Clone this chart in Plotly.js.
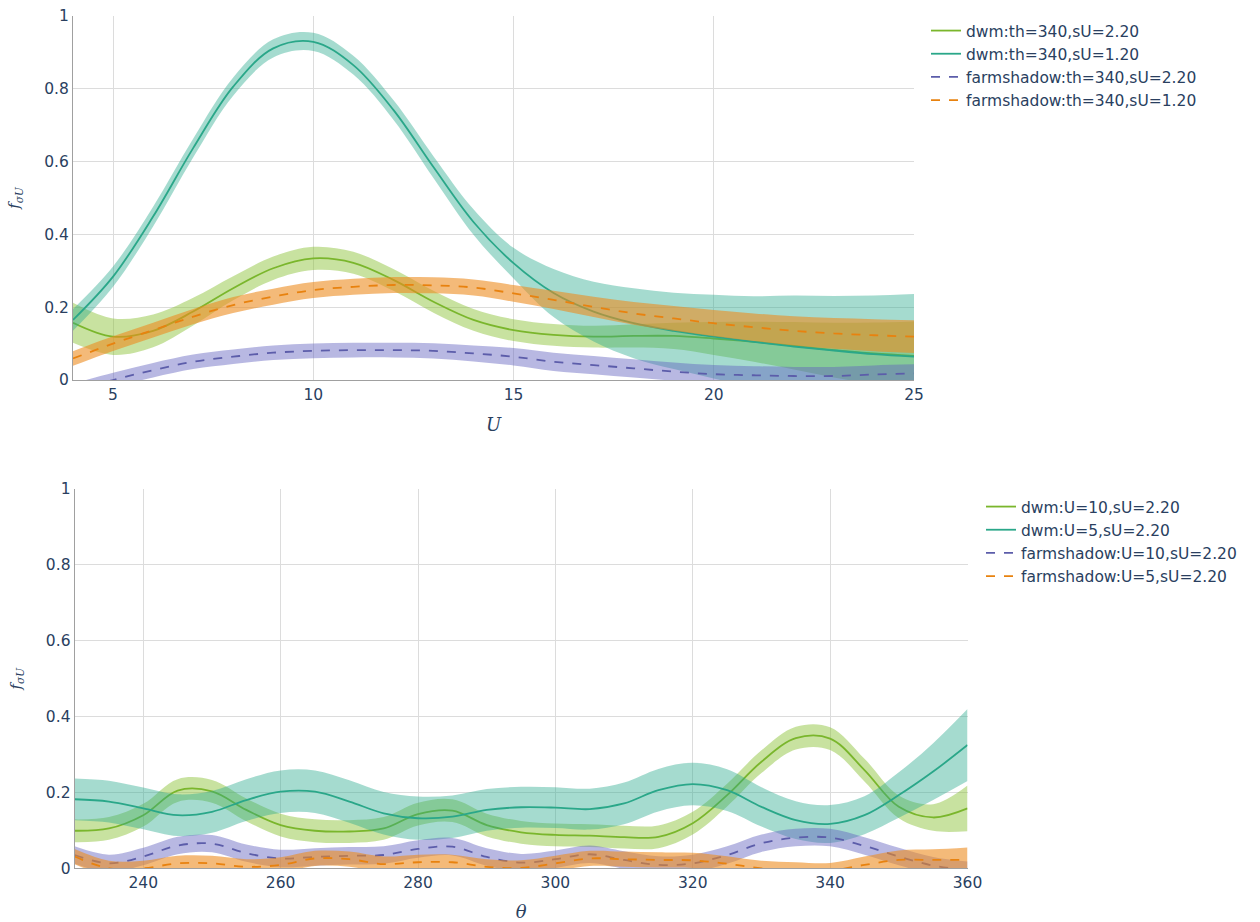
<!DOCTYPE html>
<html>
<head>
<meta charset="utf-8">
<script src="https://cdn.plot.ly/plotly-3.0.1.min.js"></script>
<style>html,body{margin:0;padding:0;background:#fff;}#plot{width:1260px;height:922px;}</style>
</head>
<body>
<div id="plot"></div>
<script>
// ---------- top panel: f vs U (theta = 340) ----------
const U = [4,5,6,7,8,9,10,11,12,13,14,15,16,17,18,19,20,21,22,23,24,25];
const dwmS22 = [0.157,0.119,0.135,0.188,0.252,0.307,0.334,0.322,0.275,0.215,0.165,0.137,0.124,0.119,0.121,0.121,0.114,0.105,0.094,0.082,0.073,0.066];
const dwmS22hw = [0.055,0.05,0.045,0.038,0.033,0.032,0.032,0.03,0.03,0.03,0.03,0.03,0.03,0.03,0.032,0.036,0.045,0.055,0.065,0.075,0.085,0.095];
const dwmS12 = [0.165,0.284,0.449,0.637,0.806,0.911,0.929,0.865,0.742,0.585,0.434,0.321,0.239,0.188,0.156,0.135,0.119,0.105,0.092,0.081,0.071,0.064];
const dwmS12hw = [0.03,0.028,0.027,0.026,0.025,0.025,0.025,0.026,0.027,0.03,0.035,0.042,0.066,0.082,0.096,0.105,0.115,0.125,0.14,0.15,0.161,0.172];
const fsS22 = [-0.03,0.0,0.027,0.05,0.064,0.075,0.08,0.082,0.082,0.08,0.073,0.064,0.05,0.041,0.032,0.023,0.016,0.013,0.011,0.011,0.015,0.018];
const fsS22hw = [0.02,0.02,0.02,0.02,0.02,0.02,0.02,0.02,0.02,0.021,0.022,0.024,0.025,0.025,0.025,0.025,0.025,0.025,0.025,0.025,0.025,0.025];
const fsS12 = [0.059,0.1,0.137,0.174,0.206,0.229,0.247,0.256,0.261,0.26,0.254,0.238,0.22,0.201,0.183,0.169,0.156,0.145,0.135,0.128,0.123,0.119];
const fsS12hw = [0.02,0.02,0.02,0.021,0.022,0.022,0.022,0.022,0.022,0.022,0.022,0.023,0.025,0.028,0.031,0.034,0.036,0.038,0.04,0.042,0.044,0.045];

// ---------- bottom panel: f vs theta (sU = 2.20) ----------
const TH = [230,235,240,245,250,255,260,265,270,275,280,285,290,295,300,305,310,315,320,325,330,335,340,345,350,355,360];
const dwmU10 = [0.099,0.105,0.14,0.205,0.203,0.154,0.114,0.099,0.097,0.105,0.143,0.152,0.114,0.095,0.088,0.086,0.082,0.083,0.119,0.193,0.281,0.343,0.342,0.259,0.162,0.134,0.158];
const dwmU10hw = [0.03,0.03,0.03,0.03,0.03,0.03,0.03,0.03,0.03,0.03,0.03,0.03,0.03,0.03,0.03,0.03,0.03,0.03,0.03,0.03,0.03,0.03,0.03,0.03,0.03,0.035,0.06];
const dwmU5 = [0.182,0.176,0.158,0.14,0.149,0.18,0.202,0.202,0.176,0.145,0.132,0.136,0.154,0.161,0.16,0.156,0.171,0.206,0.222,0.206,0.162,0.127,0.117,0.14,0.193,0.255,0.325];
const dwmU5hw = [0.055,0.055,0.055,0.055,0.055,0.055,0.056,0.056,0.056,0.056,0.057,0.056,0.055,0.054,0.054,0.054,0.055,0.056,0.056,0.055,0.052,0.05,0.05,0.05,0.06,0.075,0.095];
const fsU10 = [0.035,0.013,0.031,0.06,0.065,0.04,0.026,0.03,0.033,0.035,0.051,0.057,0.03,0.015,0.024,0.037,0.022,0.009,0.013,0.035,0.066,0.081,0.081,0.059,0.031,0.007,-0.005];
const fsU10hw = [0.023,0.023,0.023,0.023,0.023,0.023,0.023,0.023,0.023,0.023,0.023,0.023,0.023,0.023,0.023,0.023,0.023,0.023,0.023,0.023,0.023,0.023,0.023,0.023,0.023,0.023,0.023];
const fsU5 = [0.031,0.0,0.0,0.013,0.013,0.004,0.009,0.026,0.024,0.011,0.016,0.016,0.004,0.001,0.013,0.026,0.024,0.022,0.021,0.012,0.0,-0.004,-0.006,0.009,0.022,0.022,0.022];
const fsU5hw = [0.02,0.02,0.02,0.02,0.02,0.02,0.02,0.02,0.02,0.02,0.02,0.02,0.02,0.02,0.02,0.02,0.02,0.02,0.02,0.02,0.02,0.02,0.02,0.022,0.025,0.028,0.033];

const topNames = ['dwm:th=340,sU=2.20','dwm:th=340,sU=1.20','farmshadow:th=340,sU=2.20','farmshadow:th=340,sU=1.20'];
const botNames = ['dwm:U=10,sU=2.20','dwm:U=5,sU=2.20','farmshadow:U=10,sU=2.20','farmshadow:U=5,sU=2.20'];

const GREEN = '#7ab62c', TEAL = '#2aa789', PURPLE = '#5c5daa', ORANGE = '#e8820f';
const FILL = {};
FILL[GREEN] = 'rgba(132,190,44,0.45)';
FILL[TEAL] = 'rgba(40,170,140,0.42)';
FILL[PURPLE] = 'rgba(98,98,190,0.45)';
FILL[ORANGE] = 'rgba(236,140,32,0.6)';

function band(x, m, hw, color, xa, ya) {
  const up = m.map((v,i)=>v+hw[i]);
  const lo = m.map((v,i)=>v-hw[i]);
  return [
    {x:x, y:up, xaxis:xa, yaxis:ya, mode:'lines', line:{width:0, shape:'spline'}, showlegend:false, hoverinfo:'skip'},
    {x:x, y:lo, xaxis:xa, yaxis:ya, mode:'lines', line:{width:0, shape:'spline'}, fill:'tonexty', fillcolor:FILL[color], showlegend:false, hoverinfo:'skip'}
  ];
}
function mean(x, m, name, color, dash, xa, ya, leg) {
  return {x:x, y:m, xaxis:xa, yaxis:ya, mode:'lines', name:name, legend:leg,
          line:{color:color, width:1.8, dash:dash, shape:'spline'}};
}

const traces = [];
const topSet = [[dwmS22,dwmS22hw,GREEN,'solid'],[dwmS12,dwmS12hw,TEAL,'solid'],[fsS22,fsS22hw,PURPLE,'dash'],[fsS12,fsS12hw,ORANGE,'dash']];
topSet.forEach((s,i)=>{
  traces.push(...band(U, s[0], s[1], s[2], 'x', 'y'));
  traces.push(mean(U, s[0], topNames[i], s[2], s[3], 'x', 'y', 'legend'));
});
const botSet = [[dwmU10,dwmU10hw,GREEN,'solid'],[dwmU5,dwmU5hw,TEAL,'solid'],[fsU10,fsU10hw,PURPLE,'dash'],[fsU5,fsU5hw,ORANGE,'dash']];
botSet.forEach((s,i)=>{
  traces.push(...band(TH, s[0], s[1], s[2], 'x2', 'y2'));
  traces.push(mean(TH, s[0], botNames[i], s[2], s[3], 'x2', 'y2', 'legend2'));
});

const W = 1260, H = 922;
const axisCommon = {showgrid:true, gridcolor:'#dcdcdc', gridwidth:1, showline:true, linecolor:'#a0a0a0', linewidth:1,
  zeroline:false, ticks:'', automargin:false, tickfont:{size:15.5, color:'#2a3f5f'}};
const ytitle = {text:'<i>f</i><sub><i>σU</i></sub>', font:{family:'DejaVu Serif', size:15, color:'#2a3f5f'}, standoff:20};

const layout = {
  width:W, height:H,
  margin:{l:0, r:0, t:0, b:0},
  paper_bgcolor:'#fff', plot_bgcolor:'#fff',
  font:{family:'DejaVu Sans', size:15.5, color:'#2a3f5f'},
  xaxis:Object.assign({}, axisCommon, {domain:[73/W, 914/W], range:[4,25], tick0:5, dtick:5, anchor:'y',
    title:{text:'<i>U</i>', font:{family:'DejaVu Serif', size:18, color:'#2a3f5f'}, standoff:15}}),
  yaxis:Object.assign({}, axisCommon, {domain:[1-380/H, 1-16/H], range:[0,1], dtick:0.2, anchor:'x', title:ytitle}),
  xaxis2:Object.assign({}, axisCommon, {domain:[74.6/W, 967.5/W], range:[230,360], tick0:0, dtick:20, anchor:'y2',
    title:{text:'<i>θ</i>', font:{family:'DejaVu Serif', size:18, color:'#2a3f5f'}, standoff:15}}),
  yaxis2:Object.assign({}, axisCommon, {domain:[1-868.3/H, 1-489/H], range:[0,1], dtick:0.2, anchor:'x2', title:ytitle}),
  legend:{x:926/W, y:1-14/H, xanchor:'left', yanchor:'top', traceorder:'normal', bgcolor:'rgba(0,0,0,0)', font:{size:15.5, color:'#2a3f5f'}},
  legend2:{x:981/W, y:1-490/H, xanchor:'left', yanchor:'top', traceorder:'normal', bgcolor:'rgba(0,0,0,0)', font:{size:15.5, color:'#2a3f5f'}},
  showlegend:true
};

Plotly.newPlot('plot', traces, layout, {displayModeBar:false, staticPlot:true});
</script>
</body>
</html>
